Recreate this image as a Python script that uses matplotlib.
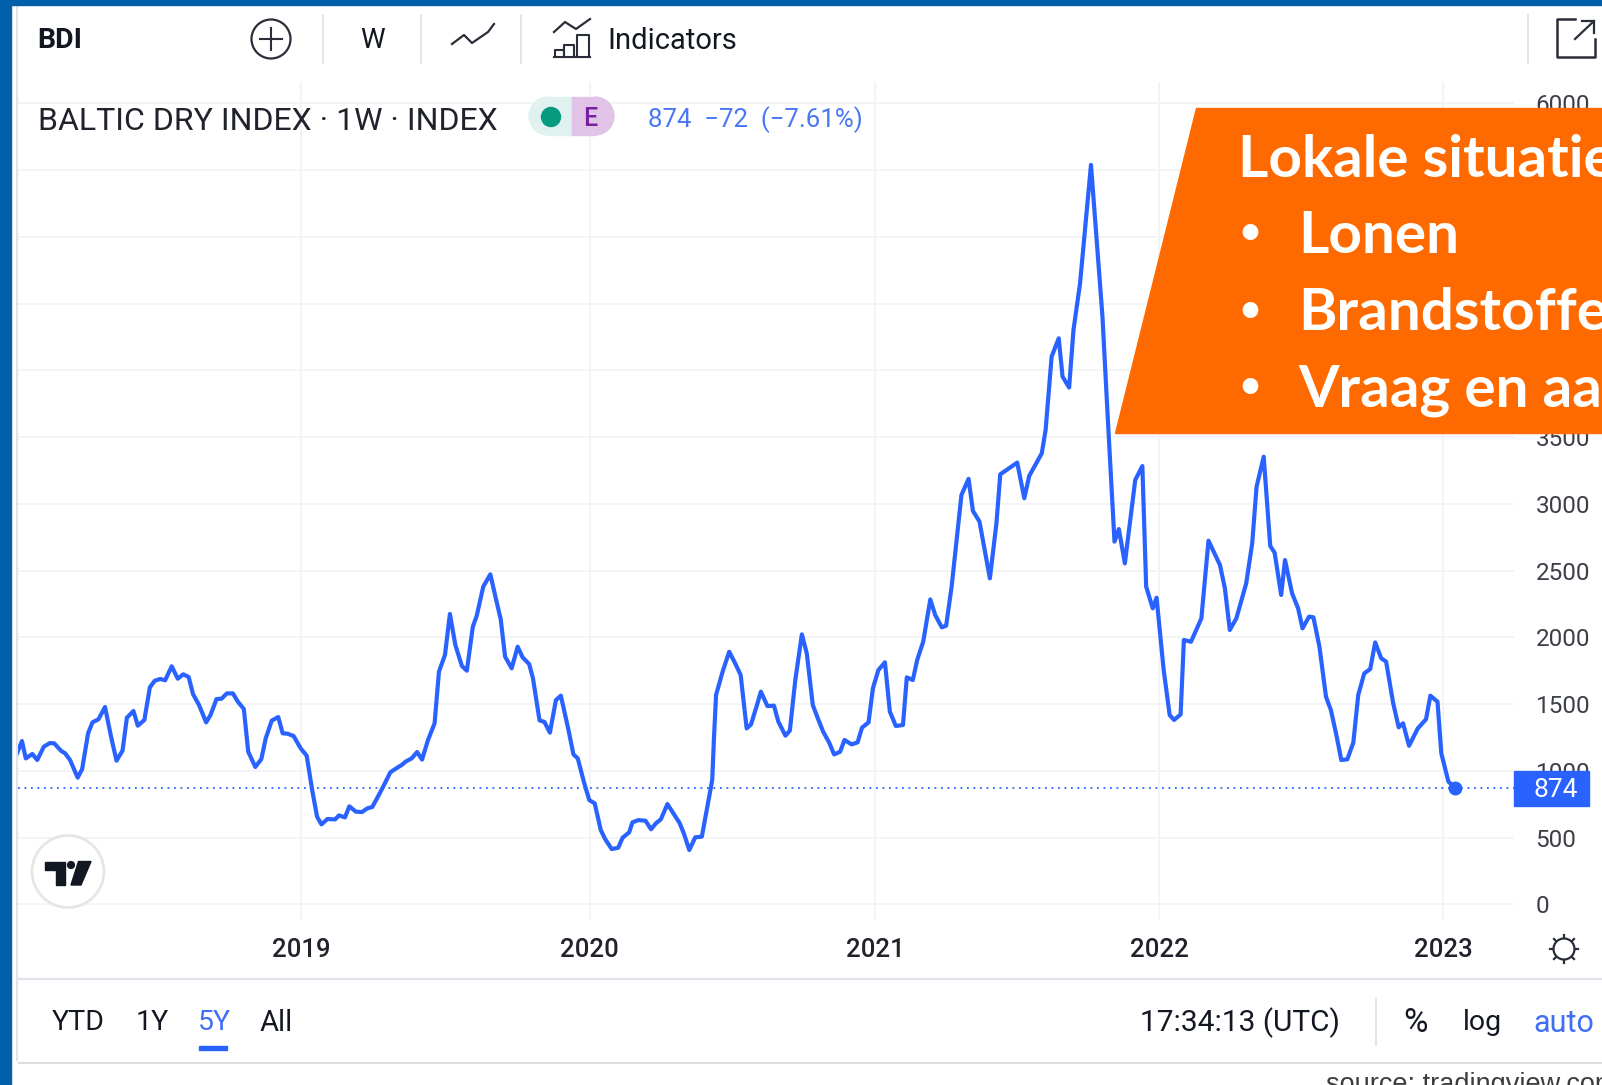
import matplotlib
matplotlib.use("Agg")
import matplotlib.pyplot as plt
from matplotlib.patches import Polygon, Circle, Rectangle, Wedge

# ---------- data ----------
weeks = [-1.0,-0.1,0.6,1.8,2.7,3.9,5.0,5.8,7.1,7.8,8.7,10.1,10.9,12.0,12.8,13.9,15.1,16.2,17.2,18.3,19.1,20.3,21.1,22.3,23.3,24.2,25.2,26.1,27.3,28.4,29.4,30.4,31.2,32.3,33.6,34.4,35.5,36.4,37.4,38.5,39.4,40.5,41.3,42.6,43.7,44.5,45.6,46.8,47.6,48.5,49.6,50.9,52.0,53.0,53.9,54.7,55.8,57.2,57.9,59.0,59.8,61.0,62.1,63.1,64.0,65.2,66.3,67.3,68.4,69.4,70.1,71.2,72.2,73.1,74.2,75.4,76.2,77.3,78.2,79.2,80.4,81.3,82.4,83.1,84.3,85.6,86.6,87.5,88.3,89.5,90.6,91.5,92.7,93.4,94.6,95.5,96.5,97.6,98.5,99.9,100.8,101.6,102.7,103.7,104.7,
         105.8,106.6,107.8,109.0,109.8,111.0,111.6,112.7,114.0,115.0,115.9,116.8,118.0,119.1,120.2,121.0,122.0,123.1,124.3,125.2,126.2,126.5,126.9,128.1,129.3,130.4,131.4,132.5,133.3,134.3,135.1,136.3,137.5,138.3,139.6,140.4,141.4,142.6,143.5,144.6,145.4,146.5,147.6,148.5,149.6,150.4,151.7,152.8,153.6,154.8,155.6,156.6,157.8,158.7,159.8,161.1,161.8,162.9,163.7,164.8,166.1,167.0,168.2,169.0,170.0,
         171.8,173.1,173.9,175.1,177.0,178.2,178.9,182.0,183.3,184.2,186.5,187.2,188.3,189.6,190.3,191.5,192.3,193.5,195.5,196.5,197.6,198.5,
         199.8,200.6,201.7,203.6,204.9,205.6,206.8,207.5,208.8,209.9,210.7,211.9,212.5,213.8,215.7,217.0,219.1,220.0,220.9,222.1,223.9,225.0,225.8,227.1,228.3,229.1,230.3,231.0,232.3,233.4,234.2,235.4,236.2,237.3,238.5,239.4,240.4,241.3,242.4,243.5,244.4,245.5,246.6,247.5,248.6,249.5,250.8,251.8,252.6,253.7,255.3,256.8,257.6,258.9,259.6,260.9,262.1]
values = [1132,1224,1094,1127,1082,1182,1209,1207,1149,1132,1082,950,1012,1282,1364,1387,1479,1257,1077,1152,1399,1449,1339,1382,1626,1676,1689,1679,1784,1691,1724,1704,1576,1494,1364,1419,1539,1541,1581,1581,1519,1464,1144,1030,1089,1244,1377,1404,1282,1279,1262,1169,1114,857,657,600,640,637,667,652,735,695,692,720,730,820,907,990,1020,1045,1070,1094,1142,1085,1232,1357,1744,1869,2176,1943,1786,1751,2081,2161,2380,2473,2293,2136,1856,1769,1931,1851,1801,1694,1379,1367,1287,1531,1564,1307,1124,1094,920,782,757,
          558,490,415,425,500,540,615,632,627,563,608,638,752,682,612,533,408,503,508,707,932,1232,1569,1744,1893,1806,1719,1319,1349,1482,1594,1486,1489,1369,1264,1302,1681,2023,1881,1494,1407,1294,1212,1124,1144,1232,1199,1214,1324,1364,1619,1756,1814,1444,1337,1344,1701,1681,1831,1968,2285,2168,2076,2088,2380,
          3068,3188,2948,2868,2443,2855,3222,3310,3043,3210,3380,3555,4104,4241,3954,3872,4304,4653,5540,5003,4404,3700,
          2718,2812,2555,3180,3284,2380,2218,2298,1756,1419,1382,1424,1981,1968,2143,2725,2543,2368,2056,2143,2405,2705,3130,3354,2685,2635,2318,2580,2330,2218,2068,2156,2151,1931,1556,1456,1269,1082,1087,1212,1569,1731,1764,1963,1844,1819,1506,1327,1357,1189,1319,1387,1564,1519,1132,920,874]
year_ticks = [51, 103.8, 156, 208, 260]
year_labels = ["2019", "2020", "2021", "2022", "2023"]
price_ticks = [0, 500, 1000, 1500, 2000, 2500, 3000, 3500, 4000, 4500, 5000, 5500, 6000]
# the labels 4000-5500 are hidden behind the callout in the reference
price_labels = ["0", "500", "1000", "1500", "2000", "2500", "3000", "3500", "", "", "", "", "6000"]
last_value = 874
legend_text = "874  \u221272  (\u22127.61%)"
callout_title = "Lokale situatie"
callout_items = ["Lonen", "Brandstoffen", "Vraag en aanbod"]

W, H = 1602, 1085
BLUE = "#2962ff"
DARK = "#131722"
GRID = "#f3f4f6"
FONT = "Roboto"

fig = plt.figure(figsize=(W / 100, H / 100), dpi=100, facecolor="white")

# ---------- price chart ----------
L, R, T, B = 17.5, 1514, 82, 919
ax = fig.add_axes([L / W, (H - B) / H, (R - L) / W, (B - T) / H], zorder=1)
ax.set_xlim(-0.915, 272.9)
ax.set_ylim(-109, 6161)
ax.plot(weeks, values, color=BLUE, lw=3.0, solid_joinstyle="round", zorder=3)
ax.axhline(last_value, color=BLUE, lw=1.3, ls=(0, (1, 2.6)), zorder=2)
ax.plot([weeks[-1]], [values[-1]], "o", color=BLUE, ms=9, zorder=4)
ax.set_xticks(year_ticks, year_labels, fontfamily=FONT, fontsize=18.5, fontweight="medium", color="#20232c")
ax.set_yticks(price_ticks, price_labels, fontfamily=FONT, fontsize=17.5, color="#3c3f48")
ax.yaxis.tick_right()
ax.tick_params(axis="x", length=0, pad=14)
ax.tick_params(axis="y", length=0, pad=15.5)
ax.grid(True, color=GRID, lw=1.4)
ax.set_axisbelow(True)
for s in ax.spines.values():
    s.set_visible(False)

# ---------- overlay in picture pixels: widget chrome ----------
ov = fig.add_axes([0, 0, 1, 1], zorder=5)
ov.set_xlim(0, W)
ov.set_ylim(H, 0)
ov.axis("off")
ov.patch.set_alpha(0)

# borders
ov.add_patch(Rectangle((0, 0), W, 5, color="#0060a9", zorder=20))
ov.add_patch(Rectangle((0, 0), 11, H, color="#0060a9", zorder=20))
ov.plot([17, 17], [5, 1060], color="#e3e3e3", lw=1.5)
ov.plot([19, W], [1063, 1063], color="#dcdcdc", lw=1.5)
ov.plot([17, W], [979, 979], color="#e0e3eb", lw=1.5)

def label(x, y, s, size=18, color=DARK, ha="left", va="center", weight="normal", family=FONT, **k):
    return ov.text(x, y, s, fontsize=size, color=color, ha=ha, va=va, fontweight=weight, fontfamily=family, **k)

# toolbar
label(37, 41, "BDI", size=20.5, weight="bold")
ov.add_patch(Circle((271, 39), 19.5, fill=False, ec="#2a2e39", lw=1.6))
ov.plot([260, 282], [39, 39], color="#2a2e39", lw=1.5)
ov.plot([271, 271], [28, 50], color="#2a2e39", lw=1.5)
for x in (323, 421, 521, 1528):
    ov.plot([x, x], [15, 63], color="#e0e3eb", lw=1.3)
label(372, 41, "W", size=20, ha="center")
ov.plot([452, 464, 472, 488, 494], [44, 35, 43, 32, 24], color="#2a2e39", lw=1.6)
ov.plot([554, 565, 576, 590], [32, 22, 29, 19], color="#2a2e39", lw=1.6)
for x0, x1, top in ((555, 564, 50), (564, 574, 45), (577, 589, 35)):
    ov.plot([x0, x0, x1, x1], [57, top, top, 57], color="#2a2e39", lw=1.5)
ov.plot([554, 590], [57, 57], color="#2a2e39", lw=1.5)
label(607, 41, "Indicators", size=21)
ov.plot([1575, 1557, 1557, 1595, 1595], [19, 19, 57, 57, 39], color="#2a2e39", lw=1.8, solid_joinstyle="round")
ov.plot([1575, 1594], [39, 21], color="#2a2e39", lw=1.6)
ov.plot([1582, 1594, 1594], [21, 21, 33], color="#2a2e39", lw=1.6)

# legend row
label(38, 121, "BALTIC DRY INDEX \u00b7 1W \u00b7 INDEX", size=23, color="#20232c")
ov.add_patch(Rectangle((548, 97), 24, 38, color="#dff2ef", zorder=1))
ov.add_patch(Wedge((548, 116), 19, 90, 270, color="#dff2ef", zorder=1))
ov.add_patch(Rectangle((572, 97), 23, 38, color="#e1c3e8", zorder=2))
ov.add_patch(Wedge((595, 116), 19, -90, 90, color="#e1c3e8", zorder=2))
ov.add_patch(Circle((551, 117), 9.5, color="#089981", zorder=3))
label(590, 119, "E", size=18, color="#7b1fa2", ha="center", weight="medium", zorder=3)
label(648, 120, legend_text, size=18.6, color="#4a78f5")

# last value tag
ov.add_patch(Rectangle((1514, 771), 75, 35, color=BLUE, zorder=6))
label(1556, 790, str(last_value), size=19, color="white", ha="center", zorder=7)

# TradingView logo
ov.add_patch(Circle((68, 871.5), 36, fc="white", ec="#e6e6e6", lw=2, zorder=6))
ov.add_patch(Polygon([(45, 861.5), (65, 861.5), (65, 885), (55.5, 885), (55.5, 870), (45, 870)], color=DARK, zorder=7))
ov.add_patch(Circle((71, 865), 3.4, color=DARK, zorder=7))
ov.add_patch(Polygon([(78.5, 861.5), (91, 861.5), (81, 885), (71, 885)], color=DARK, zorder=7))

# settings icon
ov.add_patch(Circle((1564, 949), 10.5, fill=False, ec="#2a2e39", lw=1.6))
for dx, dy in ((0, -14), (0, 14), (-14, 0), (14, 0), (-10, -10), (10, -10), (-10, 10), (10, 10)):
    ov.plot([1564 + dx * .8, 1564 + dx], [949 + dy * .8, 949 + dy], color="#2a2e39", lw=1.6)

# bottom bar
label(52, 1023, "YTD", size=20.5)
label(136, 1023, "1Y", size=20.5)
label(198, 1023, "5Y", size=20.5, color="#3f6ff5")
ov.add_patch(Rectangle((199, 1045.5), 28, 4.5, color=BLUE))
label(260, 1023, "All", size=21)
label(1140, 1023, "17:34:13 (UTC)", size=21.5)
ov.plot([1376, 1376], [998, 1045], color="#e0e3eb", lw=1.3)
label(1403, 1023, "%", size=24)
label(1463, 1023, "log", size=20.5)
label(1533, 1023, "auto", size=22, color="#3f6ff5")
label(1326, 1092, "source: tradingview.com", size=19.5, va="baseline", color="#3c3c3c", family="Liberation Sans")

# callout
ORANGE = "#ff6a00"
ov.add_patch(Polygon([(1196, 108), (W + 5, 108), (W + 5, 433), (1115, 433)], color=ORANGE, zorder=10))
CW = dict(size=42, color="white", weight="bold", family="Lato", va="baseline", zorder=11)
label(1238, 177, callout_title, **CW)
for item, base in zip(callout_items, (253, 330, 406.5)):
    label(1250, base - 9.5, "\u2022", size=26, color="white", weight="bold", family="Lato", ha="center", va="baseline", zorder=11)
    label(1298, base, item, **CW)

fig.savefig("out.png", dpi=100, facecolor="white")
